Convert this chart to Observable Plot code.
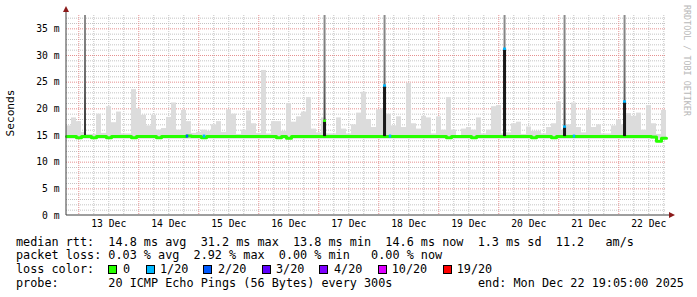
<!DOCTYPE html>
<html><head><meta charset="utf-8">
<script src="https://cdn.jsdelivr.net/npm/d3@7"></script>
<script src="https://cdn.jsdelivr.net/npm/@observablehq/plot@0.6"></script>
<style>
body{margin:0;background:#fff;}
#wrap{position:relative;width:697px;height:297px;font-family:"DejaVu Sans Mono",monospace;overflow:hidden;background:#fff;}
#wrap svg{position:absolute;left:0;top:0;}
.lg{position:absolute;font-size:11.8px;white-space:pre;line-height:14px;color:#000;}
.sq{position:absolute;width:7px;height:7px;border:1px solid #000;top:265px;}
</style></head><body><div id="wrap"></div><script>
// ---- data ----
const startT = new Date(Date.UTC(2025, 11, 12, 19, 5));
const endT = new Date(Date.UTC(2025, 11, 22, 19, 5));
const binHours = 2;
const smokeFloor = 14.3;
const smokeMax = [
  16.8,18.3,17.6,15.6,15.2,15.2,19.0,15.4,20.4,17.4,19.4,15.3,15.3,23.6,20.0,18.8,16.8,18.8,16.0,16.3,
  18.4,21.1,16.0,19.7,17.6,15.4,15.6,16.0,15.8,17.0,17.6,15.6,19.8,19.0,15.2,16.0,19.6,17.2,15.4,27.2,
  15.3,17.6,17.6,15.8,21.0,17.5,18.5,19.4,22.1,16.2,15.5,18.3,15.3,15.3,18.3,16.2,15.3,17.0,19.2,23.1,
  18.0,16.5,19.8,20.0,19.0,16.8,18.5,16.5,24.8,17.2,16.2,18.6,18.3,15.3,18.5,16.0,22.1,16.0,15.0,16.2,
  16.5,16.0,18.3,15.3,16.0,20.4,20.6,15.3,15.5,17.2,17.5,15.2,16.6,15.8,15.8,15.3,16.5,17.2,21.3,16.0,
  17.0,21.1,16.5,15.5,19.7,16.5,17.0,15.3,15.3,16.8,17.9,17.0,19.1,18.6,19.2,16.0,20.6,17.2,15.2,19.7
];
const medianRtt = [
  14.8,14.8,14.6,14.8,14.8,14.6,14.8,14.8,14.6,14.8,14.8,14.8,14.8,14.6,14.8,14.8,14.8,14.8,14.6,14.8,
  14.8,14.8,14.8,14.8,14.9,14.8,14.8,14.6,14.8,14.8,14.8,14.8,14.8,14.8,14.8,14.8,14.8,14.8,14.8,14.8,
  14.8,14.8,14.6,14.8,14.5,14.8,14.8,14.8,14.8,14.8,14.8,14.8,14.8,14.8,14.8,14.8,14.8,14.8,14.8,14.8,
  14.8,14.8,14.8,14.8,14.8,14.8,14.8,14.8,14.8,14.8,14.8,14.8,14.8,14.8,14.8,14.8,14.6,14.8,14.8,14.8,
  14.8,14.6,14.8,14.8,14.8,14.8,14.8,14.8,14.8,14.8,14.8,14.8,14.8,14.6,14.8,14.8,14.8,14.6,14.8,14.8,
  14.8,14.8,14.8,14.8,14.8,14.8,14.8,14.8,14.8,14.8,14.8,14.8,14.8,14.8,14.8,14.8,14.8,14.7,13.9,14.5
];
const spikeTimes = ["2025-12-13T02:41:00Z","2025-12-17T02:30:00Z","2025-12-18T02:30:00Z","2025-12-20T02:30:00Z","2025-12-21T02:30:00Z","2025-12-22T02:30:00Z"];
const spikeMax = [37.5,37.5,37.5,37.5,37.5,37.5];
const spikeMedian = [14.8,17.6,24.2,31.1,16.5,21.2];
const spikeLoss = [0,0,1,1,1,1];
const lossTimes = ["2025-12-14T19:29:00Z","2025-12-15T02:17:00Z","2025-12-18T04:41:00Z","2025-12-21T06:17:00Z"];
const lossValues = [14.8,14.8,14.8,14.8];
const lossLevels = [2,1,1,1];
const lossLabels = ["0","1/20","2/20","3/20","4/20","10/20","19/20"];
const lossColors = ["#26ff00","#00b8ff","#0059ff","#5e00ff","#7e00ff","#dd00ff","#ff0000"];
const yTicks = [0,5,10,15,20,25,30,35];
const dayLabels = ["13 Dec","14 Dec","15 Dec","16 Dec","17 Dec","18 Dec","19 Dec","20 Dec","21 Dec","22 Dec"];
const dayNoons = dayLabels.map((d, i) => new Date(Date.UTC(2025, 11, 13 + i, 12)));

// ---- build tables ----
const HR = 3600e3;
const bins = smokeMax.map((v, i) => ({
  t1: new Date(+startT + i * binHours * HR),
  t2: new Date(+startT + (i + 1) * binHours * HR),
  max: v, med: medianRtt[i]
}));
const medPts = bins.map(b => ({t: b.t1, v: b.med})).concat([{t: endT, v: medianRtt[medianRtt.length - 1]}]);
const spikes = spikeTimes.map((s, i) => ({t: new Date(s), max: spikeMax[i], med: spikeMedian[i], loss: spikeLoss[i], base: medianRtt[Math.floor((new Date(s) - startT) / (binHours * HR))]}));
const spikesDark = spikes.filter(s => s.med > s.base + 0.5);
const lossEv = lossTimes.map((s, i) => ({t: new Date(s), v: lossValues[i], c: lossColors[lossLevels[i]]}));

const minorX = d3.utcHour.every(6).range(startT, endT).filter(d => d.getUTCHours() !== 0);
const majorX = d3.utcDay.range(startT, endT);
const minorY = d3.range(1, 38).filter(v => v % 5 !== 0);
const majorY = yTicks.filter(v => v > 0);

const W = 697, SVGH = 232;
const plot = Plot.plot({
  width: W, height: SVGH,
  marginLeft: 66, marginRight: 31, marginTop: 15, marginBottom: 17,
  style: {fontFamily: "DejaVu Sans Mono", fontSize: "9.7px", background: "transparent", overflow: "visible", color: "#000"},
  x: {type: "utc", domain: [startT, endT]},
  y: {domain: [0, 37.5]},
  marks: [
    Plot.ruleY(minorY, {stroke: "#c4c4c4", strokeDasharray: "1,1", strokeWidth: 1}),
    Plot.ruleX(minorX, {stroke: "#c4c4c4", strokeDasharray: "1,1", strokeWidth: 1}),
    Plot.ruleY(majorY, {stroke: "#e59090", strokeDasharray: "1,1", strokeWidth: 1}),
    Plot.ruleX(majorX, {stroke: "#e59090", strokeDasharray: "1,1", strokeWidth: 1}),
    Plot.rect(bins, {x1: "t1", x2: "t2", y1: smokeFloor, y2: "max", fill: "#dcdcdc"}),
    Plot.rect(spikes, {x1: d => new Date(+d.t - 0.4 * HR), x2: d => new Date(+d.t + 0.4 * HR), y1: "base", y2: "max", fill: "url(#spkgrad)"}),
    Plot.line(medPts, {x: "t", y: "v", curve: "step-after", stroke: "#26ff00", strokeWidth: 3}),
    Plot.rect(spikesDark, {x1: d => new Date(+d.t - 0.6 * HR), x2: d => new Date(+d.t + 0.6 * HR), y1: "base", y2: "med", fill: "#1a1a1a"}),
    Plot.rect(spikesDark, {x1: d => new Date(+d.t - 0.6 * HR), x2: d => new Date(+d.t + 0.6 * HR), y1: d => d.med - 0.15, y2: d => d.med + 0.3, fill: d => lossColors[d.loss]}),
    Plot.rect(lossEv, {x1: d => new Date(+d.t - 0.5 * HR), x2: d => new Date(+d.t + 0.5 * HR), y1: d => d.v - 0.28, y2: d => d.v + 0.28, fill: "c"}),
    Plot.axisY({ticks: yTicks, tickFormat: d => d + " m", tickSize: 0, tickPadding: 7, label: null}),
    Plot.axisX({ticks: dayNoons, tickFormat: d => dayLabels[dayNoons.findIndex(n => +n === +d)], tickSize: 0, tickPadding: 5, label: null})
  ]
});

const wrap = document.getElementById("wrap");
wrap.appendChild(plot);
const svg = d3.select(plot);
svg.insert("defs", ":first-child").html('<linearGradient id="spkgrad" x1="0" y1="0" x2="0" y2="1"><stop offset="0" stop-color="#8e8e8e"/><stop offset="0.55" stop-color="#6a6a6a"/><stop offset="1" stop-color="#2e2e2e"/></linearGradient>');
const xs = plot.scale("x"), ys = plot.scale("y");
const X0 = xs.apply(startT), X1 = xs.apply(endT), Y0 = ys.apply(0), YT = ys.apply(37.5);
svg.append("line").attr("x1", X0).attr("x2", X0).attr("y1", Y0).attr("y2", YT - 4).attr("stroke", "#3c3c3c");
svg.append("line").attr("x1", X0).attr("x2", X1 + 4).attr("y1", Y0).attr("y2", Y0).attr("stroke", "#3c3c3c");
svg.append("path").attr("d", `M${X0 - 3},${YT - 3}L${X0 + 3},${YT - 3}L${X0},${YT - 9}Z`).attr("fill", "#8b1a1a");
svg.append("path").attr("d", `M${X1 + 3},${Y0 - 3}L${X1 + 3},${Y0 + 3}L${X1 + 9},${Y0}Z`).attr("fill", "#8b1a1a");
svg.append("text").attr("transform", "translate(14,113) rotate(-90)").attr("text-anchor", "middle")
  .attr("font-size", "11.2px").attr("fill", "#000").text("Seconds");
svg.append("text").attr("transform", "translate(684,5) rotate(90)").attr("text-anchor", "start")
  .attr("font-size", "8.4px").attr("fill", "#b8b8b8").text("RRDTOOL / TOBI OETIKER");

// ---- legend (below the svg) ----
function addText(txt, left, top) {
  const d = document.createElement("div");
  d.className = "lg"; d.style.left = left + "px"; d.style.top = top + "px"; d.textContent = txt;
  wrap.appendChild(d);
}
addText("median rtt:  14.8 ms avg  31.2 ms max  13.8 ms min  14.6 ms now  1.3 ms sd  11.2   am/s", 16, 234.5);
addText("packet loss: 0.03 % avg  2.92 % max  0.00 % min   0.00 % now", 16, 248);
addText("loss color:", 16, 262);
const sqX = [108, 146, 203, 262, 319, 378, 443];
const lbX = [123, 160, 218, 276, 334, 391.7, 456.7];
lossLabels.forEach((l, i) => {
  const s = document.createElement("div");
  s.className = "sq"; s.style.left = sqX[i] + "px"; s.style.background = lossColors[i];
  wrap.appendChild(s);
  addText(l, lbX[i], 262);
});
addText("probe:       20 ICMP Echo Pings (56 Bytes) every 300s", 16, 275.7);
addText("end: Mon Dec 22 19:05:00 2025", 478, 275.7);
</script></body></html>
